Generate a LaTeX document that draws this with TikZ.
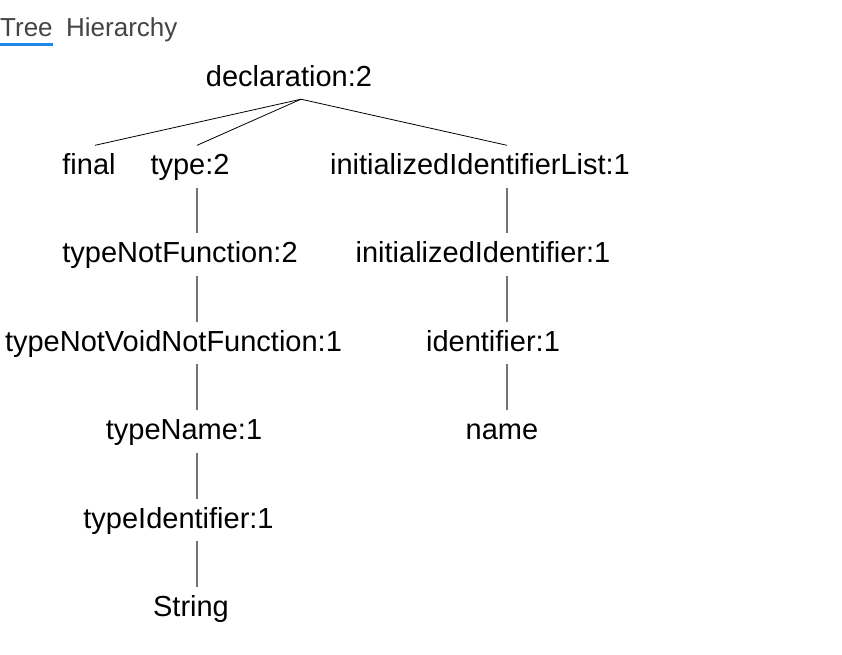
\documentclass[tikz,border=0pt]{standalone}
\usepackage{fontspec}
\setmainfont{Liberation Sans}
\usepackage{tikz}
\usetikzlibrary{calc}

\definecolor{tabblue}{RGB}{30,136,229}
\definecolor{tabgray}{RGB}{68,68,68}

\begin{document}
\begin{tikzpicture}[%
    x=1pt, y=-1pt,
    tab/.style={anchor=base west, inner sep=0pt, text=tabgray,
                font=\fontsize{26pt}{30pt}\selectfont},
    tnode/.style={anchor=base, inner sep=0pt, text height=29pt, text depth=13pt,
                  font=\fontsize{29pt}{34pt}\selectfont},
    fan/.style={draw=black, line width=0.8pt},
    stem/.style={draw=black!55, line width=1.1pt}
  ]
  \useasboundingbox (0,0) rectangle (842,654);

  % tabs
  \node[tab] (tree) at (0,36) {Tree};
  \node[tab] (hier) at (66,36) {Hierarchy};
  \fill[tabblue] ([yshift=-7pt]tree.base west) rectangle ([yshift=-10pt]tree.base east);

  % where the connectors meet each row
  \coordinate (declX) at (301,0);
  \coordinate (finalX) at (95,0);
  \coordinate (leftX) at (197,0);
  \coordinate (rightX) at (507,0);

  % tree
  \node[tnode] (decl)   at (289,86)    {declaration:2};
  \node[tnode] (final)  at (89,174.5)  {final};
  \node[tnode] (type)   at (190,174.5) {type:2};
  \node[tnode] (list)   at (480,174.5) {initializedIdentifierList:1};
  \node[tnode] (tnf)    at (180,262.5) {typeNotFunction:2};
  \node[tnode] (tnvnf)  at (173.5,351) {typeNotVoidNotFunction:1};
  \node[tnode] (tname)  at (184,439.5) {typeName:1};
  \node[tnode] (tident) at (178.5,528) {typeIdentifier:1};
  \node[tnode] (str)    at (191,616)   {String};
  \node[tnode] (init)   at (483,262.5) {initializedIdentifier:1};
  \node[tnode] (ident)  at (493,351)   {identifier:1};
  \node[tnode] (name)   at (502,439.5) {name};

  \path (decl.south -| declX) edge[fan] (final.north -| finalX)
        (decl.south -| declX) edge[fan] (type.north -| leftX)
        (decl.south -| declX) edge[fan] (list.north -| rightX);

  \path (type.south -| leftX)   edge[stem] (tnf.north -| leftX)
        (tnf.south -| leftX)    edge[stem] (tnvnf.north -| leftX)
        (tnvnf.south -| leftX)  edge[stem] (tname.north -| leftX)
        (tname.south -| leftX)  edge[stem] (tident.north -| leftX)
        (tident.south -| leftX) edge[stem] (str.north -| leftX);

  \path (list.south -| rightX)  edge[stem] (init.north -| rightX)
        (init.south -| rightX)  edge[stem] (ident.north -| rightX)
        (ident.south -| rightX) edge[stem] (name.north -| rightX);
\end{tikzpicture}
\end{document}
